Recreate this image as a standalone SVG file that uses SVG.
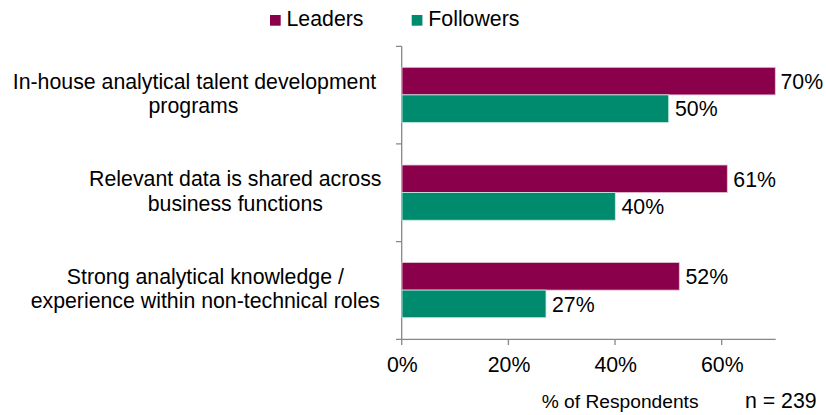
<svg xmlns="http://www.w3.org/2000/svg" width="826" height="415" viewBox="0 0 826 415">
<style>
text{font-family:"Liberation Sans",Arial,sans-serif;fill:#000;font-size:21.3px}
.cat{text-anchor:middle}
.lead{fill:#8A004B;stroke:#e8c7d6;stroke-width:0.8}
.fol{fill:#008A6E;stroke:#c8ebe2;stroke-width:0.8}
.ax{stroke:#888;stroke-width:1.3;fill:none}
.tick{text-anchor:middle}
</style>
<rect width="826" height="415" fill="#fff"/>
<g id="legend">
<rect x="270" y="15" width="10.7" height="10.7" fill="#8A004B"/>
<text x="286.5" y="26">Leaders</text>
<rect x="411.7" y="15" width="10.7" height="10.7" fill="#008A6E"/>
<text x="428.3" y="26">Followers</text>
</g>
<g id="axes">
<path class="ax" d="M401.7 46.3V345M396 46.3H401.7M396 143.9H401.7M396 241.6H401.7M396 339.3H775.7M508.4 339.3V345M615 339.3V345M721.7 339.3V345"/>
<text class="tick" x="402.3" y="371.7">0%</text>
<text class="tick" x="509" y="371.7">20%</text>
<text class="tick" x="615.7" y="371.7">40%</text>
<text class="tick" x="722.3" y="371.7">60%</text>
<text x="541.7" y="408" style="font-size:19.2px">% of Respondents</text>
<text x="745" y="408">n = 239</text>
</g>
<g id="cat1">
<text class="cat" x="194.5" y="88.5">In-house analytical talent development</text>
<text class="cat" x="193.5" y="113">programs</text>
<rect class="lead" x="402" y="67.3" width="373.3" height="27.6"/>
<rect class="fol" x="402" y="94.9" width="266.7" height="27.6"/>
<text x="780.5" y="88.8">70%</text>
<text x="675" y="116.3">50%</text>
</g>
<g id="cat2">
<text class="cat" x="235.3" y="186.3">Relevant data is shared across</text>
<text class="cat" x="235.3" y="210.8">business functions</text>
<rect class="lead" x="402" y="165" width="325.3" height="27.6"/>
<rect class="fol" x="402" y="192.6" width="213.3" height="27.6"/>
<text x="733.3" y="186.5">61%</text>
<text x="621.5" y="214">40%</text>
</g>
<g id="cat3">
<text class="cat" x="205.3" y="284">Strong analytical knowledge /</text>
<text class="cat" x="205.3" y="308.4">experience within non-technical roles</text>
<rect class="lead" x="402" y="262.5" width="277.3" height="27.6"/>
<rect class="fol" x="402" y="290.1" width="144" height="27.6"/>
<text x="685.5" y="284">52%</text>
<text x="552" y="311.5">27%</text>
</g>
</svg>
